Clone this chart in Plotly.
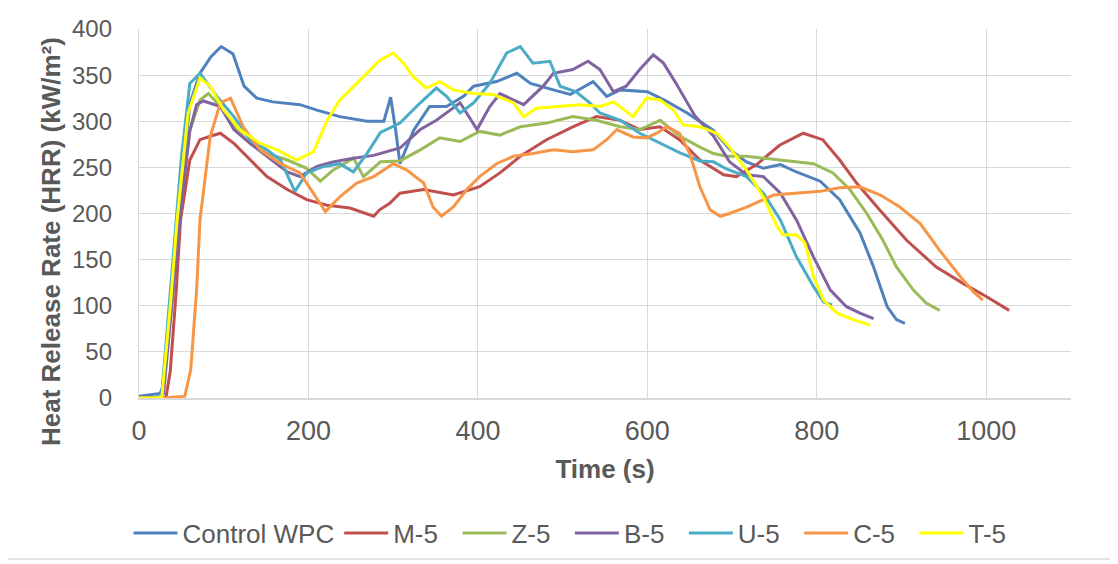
import plotly.graph_objects as go

# ---- data ----
ctrl_t = [0, 10, 20, 25, 28, 38, 50, 60, 72, 85, 97, 111, 124, 139, 158, 190, 210, 237, 269, 289, 297, 303, 308, 324, 343, 363, 383, 395, 422, 446, 462, 489, 509, 536, 552, 568, 600, 620, 638, 647, 678, 698, 717, 737, 757, 776, 804, 827, 851, 867, 883, 894, 904]
ctrl_v = [2, 3, 4, 5, 12, 115, 230, 319, 352, 370, 381, 373, 338, 325, 321, 318, 312, 305, 300, 300, 326, 290, 254, 290, 316, 316, 327, 338, 343, 352, 341, 334, 329, 343, 327, 334, 332, 323, 314, 309, 290, 269, 256, 249, 253, 245, 235, 215, 179, 142, 99, 85, 81]

m5_t = [0, 20, 32, 37, 44, 49, 60, 72, 85, 96, 112, 131, 151, 175, 198, 222, 249, 277, 284, 296, 308, 336, 371, 402, 426, 450, 481, 512, 540, 568, 591, 615, 638, 662, 690, 705, 729, 756, 784, 807, 827, 847, 874, 906, 941, 973, 1000, 1027]
m5_v = [0, 0, 1, 30, 117, 193, 258, 280, 284, 287, 276, 258, 240, 226, 215, 209, 206, 197, 204, 211, 222, 226, 220, 229, 244, 262, 280, 294, 305, 301, 291, 294, 280, 258, 242, 240, 253, 274, 287, 280, 258, 233, 204, 171, 142, 124, 110, 95]

z5_t = [0, 20, 28, 38, 50, 60, 72, 82, 96, 112, 131, 151, 175, 198, 214, 229, 253, 265, 285, 308, 332, 355, 379, 402, 426, 450, 481, 512, 540, 568, 591, 615, 638, 662, 678, 694, 717, 756, 796, 819, 839, 859, 878, 894, 914, 929, 945]
z5_v = [0, 0, 5, 110, 220, 290, 323, 330, 316, 294, 276, 265, 258, 249, 235, 247, 260, 240, 256, 257, 269, 282, 278, 289, 285, 294, 298, 305, 301, 294, 291, 301, 284, 272, 265, 262, 262, 258, 254, 244, 226, 200, 171, 142, 117, 103, 95]

b5_t = [0, 20, 29, 40, 50, 60, 68, 76, 96, 112, 131, 151, 175, 190, 210, 229, 253, 277, 284, 308, 332, 351, 379, 399, 414, 426, 454, 477, 489, 512, 530, 544, 560, 575, 591, 607, 619, 634, 656, 678, 697, 717, 737, 757, 776, 796, 816, 835, 851, 867]
b5_v = [0, 0, 5, 110, 210, 290, 318, 322, 316, 291, 276, 262, 245, 240, 251, 256, 260, 263, 265, 271, 291, 301, 320, 291, 316, 330, 318, 338, 352, 356, 365, 356, 332, 338, 356, 372, 363, 341, 306, 284, 256, 242, 240, 222, 193, 153, 117, 99, 92, 86]

u5_t = [0, 20, 27, 37, 50, 60, 72, 92, 112, 131, 151, 167, 184, 198, 218, 237, 253, 269, 285, 308, 332, 351, 363, 379, 395, 414, 434, 450, 465, 485, 497, 516, 532, 544, 568, 591, 615, 638, 662, 678, 694, 717, 737, 757, 776, 796, 808, 818]
u5_v = [0, 0, 5, 120, 260, 341, 352, 327, 305, 280, 269, 258, 224, 244, 251, 254, 245, 265, 288, 298, 320, 336, 327, 309, 320, 341, 374, 381, 363, 365, 338, 332, 320, 309, 301, 287, 276, 266, 257, 256, 248, 240, 222, 193, 153, 121, 104, 101]

c5_t = [0, 30, 54, 61, 68, 72, 84, 96, 108, 123, 143, 167, 190, 206, 220, 237, 257, 277, 296, 300, 316, 336, 347, 357, 371, 387, 402, 422, 442, 465, 489, 512, 536, 552, 564, 583, 599, 611, 623, 638, 650, 662, 674, 686, 697, 717, 749, 776, 804, 827, 851, 875, 898, 922, 945, 969, 985, 996]
c5_v = [0, 0, 2, 30, 117, 193, 283, 320, 325, 294, 269, 254, 244, 222, 202, 218, 233, 240, 251, 254, 247, 233, 207, 197, 207, 226, 240, 254, 262, 265, 269, 267, 269, 280, 291, 283, 282, 287, 294, 287, 265, 229, 204, 197, 200, 207, 220, 222, 224, 228, 229, 220, 207, 189, 160, 132, 115, 106]

t5_t = [0, 20, 27, 37, 45, 58, 72, 84, 100, 119, 143, 163, 186, 206, 222, 237, 257, 277, 284, 300, 312, 324, 339, 355, 371, 395, 418, 442, 454, 469, 497, 520, 544, 560, 583, 599, 615, 631, 642, 662, 682, 697, 717, 737, 753, 760, 776, 786, 796, 808, 824, 843, 863]
t5_v = [0, 0, 1, 100, 193, 309, 347, 338, 312, 291, 276, 269, 258, 267, 301, 323, 341, 359, 366, 374, 363, 348, 336, 343, 334, 330, 329, 320, 305, 314, 316, 318, 316, 321, 305, 325, 323, 312, 296, 294, 287, 272, 247, 218, 186, 177, 177, 168, 132, 106, 92, 85, 79]

series_names = ["Control WPC", "M-5", "Z-5", "B-5", "U-5", "C-5", "T-5"]
series_t = [ctrl_t, m5_t, z5_t, b5_t, u5_t, c5_t, t5_t]
series_v = [ctrl_v, m5_v, z5_v, b5_v, u5_v, c5_v, t5_v]
colors = ["#4F81BD", "#C0504D", "#9BBB59", "#8064A2", "#4BACC6", "#F79646", "#FFFF00"]

x_ticks = [0, 200, 400, 600, 800, 1000]
y_ticks = [0, 50, 100, 150, 200, 250, 300, 350, 400]

# the page body adds an 8px margin, so the figure is drawn 8px smaller
OFF = 8
W, H = 1118 - OFF, 564 - OFF
L, R, T, B = 139 - OFF, 47, 29 - OFF, 166
pw, ph = W - L - R, H - T - B

NBSP = "\u00a0"
legend_pad = [0, 2, 2, 2, 2, 2, 0]

fig = go.Figure()
for name, tt, vv, c, pad in zip(series_names, series_t, series_v, colors, legend_pad):
    fig.add_trace(go.Scatter(x=tt, y=vv, mode="lines", name=name + NBSP * pad,
                             line=dict(color=c, width=3)))

def px2paper_x(px):
    return (px - OFF - L) / pw

def px2paper_y(py):
    return (H - B - (py - OFF)) / ph

fig.add_shape(type="rect", xref="paper", yref="paper",
              x0=px2paper_x(7), x1=px2paper_x(1113),
              y0=px2paper_y(559), y1=px2paper_y(4),
              line=dict(color="#D9D9D9", width=1.5), fillcolor="rgba(0,0,0,0)", layer="below")

fig.add_annotation(text="<b>Heat Release Rate (HRR) (kW/m²)</b>", textangle=-90,
                   xref="paper", yref="paper", x=px2paper_x(51), y=px2paper_y(242),
                   xanchor="center", yanchor="middle", showarrow=False,
                   font=dict(size=26, color="#595959"))

fig.update_layout(
    width=W, height=H,
    margin=dict(l=L, r=R, t=T, b=B, autoexpand=False),
    paper_bgcolor="white", plot_bgcolor="white",
    font=dict(family="Liberation Sans, Arial, sans-serif", color="#595959"),
    showlegend=True,
    legend=dict(orientation="h", x=px2paper_x(570), xanchor="center",
                y=px2paper_y(533), yanchor="middle",
                font=dict(size=26, color="#595959"), itemwidth=44,
                bgcolor="rgba(0,0,0,0)"),
    xaxis=dict(range=[0, 1100], tickvals=x_ticks, showgrid=True, gridcolor="#D9D9D9",
               gridwidth=1.3, zeroline=False, showline=True, linecolor="#D9D9D9", linewidth=1.5,
               tickfont=dict(size=27, color="#595959"), ticks="", ticklabelstandoff=8,
               title=dict(text="<b>Time (s)</b>", font=dict(size=26, color="#595959"), standoff=15)),
    yaxis=dict(range=[0, 400], tickvals=y_ticks, showgrid=True, gridcolor="#D9D9D9",
               gridwidth=1.3, zeroline=False, showline=True, linecolor="#D9D9D9", linewidth=1.3,
               tickfont=dict(size=24, color="#595959"), ticks="", ticklabelstandoff=21),
)

fig.write_html("out.html")
